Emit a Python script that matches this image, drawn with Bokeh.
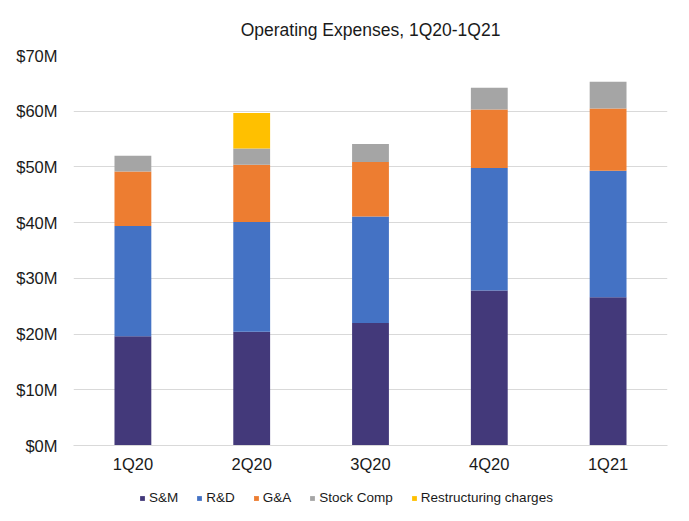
from bokeh.plotting import figure
from bokeh.layouts import column
from bokeh.models import ColumnDataSource, Legend, LegendItem, PrintfTickFormatter, Range1d, FixedTicker
from bokeh.embed import file_html
from bokeh.resources import INLINE

quarters = ["1Q20", "2Q20", "3Q20", "4Q20", "1Q21"]
sm = [19.6, 20.4, 22.0, 27.8, 26.6]
rd = [19.8, 19.7, 19.1, 22.0, 22.7]
ga = [9.8, 10.3, 9.8, 10.5, 11.2]
stock = [2.8, 2.9, 3.2, 3.9, 4.8]
restr = [0.0, 6.4, 0.0, 0.0, 0.0]
series = ["S&M", "R&D", "G&A", "Stock Comp", "Restructuring charges"]
keys = ["sm", "rd", "ga", "stock", "restr"]
colors = ["#43397A", "#4472C4", "#ED7D31", "#A5A5A5", "#FFC000"]
y_ticks = [0, 10, 20, 30, 40, 50, 60, 70]

src = ColumnDataSource(dict(q=quarters, sm=sm, rd=rd, ga=ga, stock=stock, restr=restr))
TXT = "#1a1a1a"
FONT = "Liberation Sans"

p = figure(x_range=quarters, width=673, height=478, output_backend="svg",
           toolbar_location=None, title="Operating Expenses, 1Q20-1Q21",
           min_border_left=73, min_border_right=6, min_border_top=55, min_border_bottom=33)
p.y_range = Range1d(0, 70)
p.vbar_stack(keys, x="q", width=0.31, color=colors, source=src, line_width=0)

p.title.align = "center"
p.title.vertical_align = "top"
p.title.text_font = FONT
p.title.text_font_size = "17.5px"
p.title.text_font_style = "normal"
p.title.text_color = TXT
p.title.offset = 0
p.title.standoff = 28

p.outline_line_color = None
p.xgrid.grid_line_color = None
p.ygrid.grid_line_color = "#D9D9D9"
p.ygrid.grid_line_width = 1
p.yaxis.ticker = FixedTicker(ticks=y_ticks)
p.yaxis.formatter = PrintfTickFormatter(format="$%dM")
p.yaxis.axis_line_color = None
p.yaxis.major_tick_line_color = None
p.yaxis.minor_tick_line_color = None
p.yaxis.major_tick_out = 0
p.yaxis.major_tick_in = 0
p.yaxis.major_label_text_font = FONT
p.yaxis.major_label_text_font_size = "16.5px"
p.yaxis.major_label_text_color = TXT
p.yaxis.major_label_standoff = 16

p.xaxis.axis_line_color = "#D9D9D9"
p.xaxis.major_tick_line_color = None
p.xaxis.minor_tick_line_color = None
p.xaxis.major_tick_out = 0
p.xaxis.major_tick_in = 0
p.xaxis.major_label_text_font = FONT
p.xaxis.major_label_text_font_size = "16.5px"
p.xaxis.major_label_text_color = TXT
p.xaxis.major_label_standoff = 9

# legend strip
lg = figure(x_range=quarters, width=673, height=38, output_backend="svg",
            toolbar_location=None, min_border_left=0, min_border_right=0,
            min_border_top=0, min_border_bottom=0)
lg.y_range = Range1d(1000, 1001)
lrs = lg.vbar_stack(keys, x="q", width=0.31, color=colors, source=src, line_width=0)
lg.axis.visible = False
lg.grid.visible = False
lg.outline_line_color = None

items = [LegendItem(label=s, renderers=[r]) for s, r in zip(series, lrs)]
legend = Legend(items=items, orientation="horizontal", location=(66, 11),
                glyph_width=6, glyph_height=6, label_text_font=FONT,
                label_text_font_size="13.5px", label_text_color=TXT,
                spacing=18, label_standoff=4, border_line_color=None,
                background_fill_alpha=0, padding=0, margin=0)
lg.add_layout(legend, "center")

layout = column(p, lg, spacing=0)
open("out.html", "w").write(file_html(layout, INLINE))
